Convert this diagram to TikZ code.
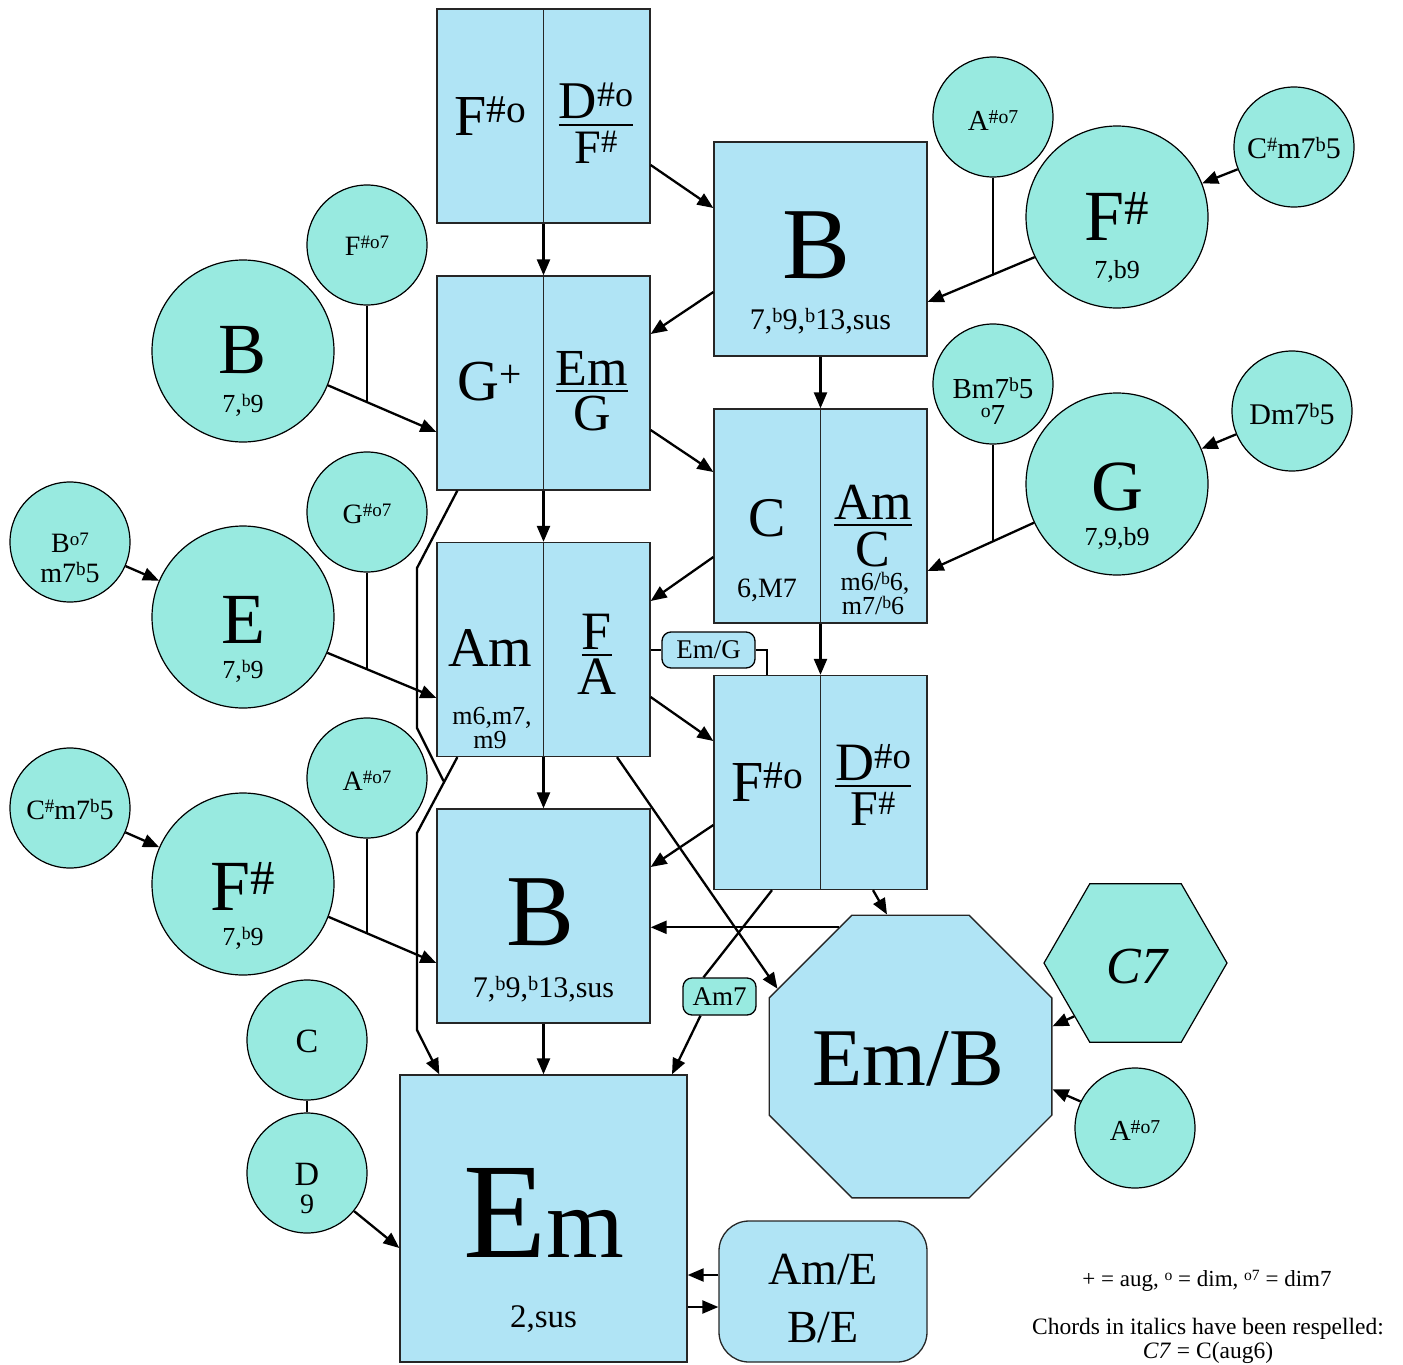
\documentclass[tikz,border=0pt]{standalone}
\usepackage{fontspec}
\setmainfont{Liberation Serif}
\usepackage{graphicx}
\usetikzlibrary{shapes.geometric,arrows.meta}
\definecolor{boxblue}{RGB}{176,228,245}
\definecolor{tealc}{RGB}{152,234,224}
\newcommand\up[1]{\raisebox{0.22em}{\scalebox{0.68}{#1}}}
\newcommand\fsz[1]{\fontsize{#1}{#1}\selectfont}
\begin{document}
\begin{tikzpicture}[x=1pt,y=-1pt,
 sbox/.style={rectangle,draw=black!85,line width=1.3pt,fill=boxblue,inner sep=0pt,minimum width=213pt,minimum height=214pt},
 crc/.style={circle,draw=black,line width=1.2pt,fill=tealc,inner sep=0pt,minimum size=120pt},
 bigcrc/.style={crc,minimum size=182pt},
 txt/.style={anchor=base,inner sep=0pt},
 num/.style={txt,text depth=0pt},
 den/.style={txt,text height=#1},
 arr/.style={line width=2.3pt,-{Triangle[length=16pt,width=13pt]}},
 ln/.style={line width=2.3pt},
 divl/.style={line width=1.3pt,draw=black!85},
 fbar/.style={line width=2pt},
 lab/.style={rectangle,rounded corners=9pt,draw=black,line width=1.3pt,inner sep=0pt,font=\fsz{27}}]
\useasboundingbox (0,0) rectangle (1403,1365);

% ---------- boxes ----------
\node[sbox] (b1) at (543.5,116) {};
\draw[divl] (b1.north) -- (b1.south);
\node[txt,font=\fsz{58}] (t1) at (490,135) {F\up{\#o}};
\node[num,font=\fsz{53}] (t2) at (596,118) {D\up{\#o}};
\draw[fbar] ([yshift=-7pt]t2.base west) -- ([yshift=-7pt]t2.base east);
\node[den=33pt,font=\fsz{48}] (t3) at (596,163) {F\up{\#}};

\node[sbox] (bB) at (820.5,249) {};
\node[txt,font=\fsz{102}] (t4) at (817,278) {B};
\node[txt,font=\fsz{30}] (t5) at (820.5,329) {7,\up{b}9,\up{b}13,sus};

\node[sbox] (b2) at (543.5,383) {};
\draw[divl] (b2.north) -- (b2.south);
\node[txt,font=\fsz{58}] (t6) at (490,400) {G\up{+}};
\node[num,font=\fsz{52}] (t7) at (592,385) {Em};
\draw[fbar] ([yshift=-6pt]t7.base west) -- ([yshift=-6pt]t7.base east);
\node[den=35pt,font=\fsz{52}] (t8) at (592,430) {G};

\node[sbox] (bC) at (820.5,516) {};
\draw[divl] (bC.north) -- (bC.south);
\node[txt,font=\fsz{56}] (t9) at (767,536) {C};
\node[txt,font=\fsz{28}] (t10) at (767,597) {6,M7};
\node[num,font=\fsz{52}] (t11) at (873,519) {Am};
\draw[fbar] ([yshift=-6pt]t11.base west) -- ([yshift=-6pt]t11.base east);
\node[den=35pt,font=\fsz{52},text depth=0pt] (t12) at (873,566) {C};
\node[txt,font=\fsz{26},text height=18pt] (t13) at (875,590) {m6/\up{b}6,};
\node[txt,font=\fsz{26},text height=18pt] (t14) at (873,614) {m7/\up{b}6};

\node[sbox] (bA) at (543.5,649.5) {};
\draw[divl] (bA.north) -- (bA.south);
\node[txt,font=\fsz{56}] (t15) at (490,666) {Am};
\node[txt,font=\fsz{26}] (t16) at (492,724) {m6,m7,};
\node[txt,font=\fsz{26},text height=18pt] (t17) at (490,748) {m9};
\node[num,font=\fsz{54}] (t18) at (597,649) {F};
\draw[fbar] ([yshift=-6pt]t18.base west) -- ([yshift=-6pt]t18.base east);
\node[den=36pt,font=\fsz{54}] (t19) at (597,694) {A};

\node[sbox] (bF) at (820.5,782.5) {};
\draw[divl] (bF.north) -- (bF.south);
\node[txt,font=\fsz{58}] (t20) at (767,801) {F\up{\#o}};
\node[num,font=\fsz{54}] (t21) at (873,780) {D\up{\#o}};
\draw[fbar] ([yshift=-6pt]t21.base west) -- ([yshift=-6pt]t21.base east);
\node[den=34pt,font=\fsz{50}] (t22) at (873,825) {F\up{\#}};

\node[sbox] (bB2) at (543.5,916) {};
\node[txt,font=\fsz{102}] (t23) at (541,945) {B};
\node[txt,font=\fsz{30}] (t24) at (543.5,997) {7,\up{b}9,\up{b}13,sus};

\node[sbox,minimum width=287pt,minimum height=287pt] (em) at (543.5,1218.5) {};
\node[txt] (t25) at (543.5,1257) {\fsz{136}E\fsz{100}m};
\node[txt,font=\fsz{33}] (t26) at (543.5,1327) {2,sus};

\node[sbox,rounded corners=30pt,minimum width=208pt,minimum height=141pt] (ame) at (823,1291.5) {};
\node[txt,font=\fsz{46}] (t27) at (823,1284) {Am/E};
\node[txt,font=\fsz{46},text height=33pt] (t28) at (823,1342) {B/E};

\node[regular polygon,regular polygon sides=8,minimum size=306pt,draw=black!85,line width=1.3pt,fill=boxblue,inner sep=0pt] (emb) at (910.5,1056.5) {};
\node[txt,font=\fsz{82}] (t29) at (908,1085) {Em/B};

\node[regular polygon,regular polygon sides=6,minimum size=183pt,draw=black,line width=1.2pt,fill=tealc,inner sep=0pt] (c7) at (1135.5,963) {};
\node[txt,font=\fsz{52}\itshape] (t30) at (1137,983) {C7};

% ---------- circles ----------
\node[crc] (as1) at (993,117) {};
\node[txt,font=\fsz{29}] (t31) at (993,130) {A\up{\#o7}};
\node[bigcrc] (fs1) at (1117,217) {};
\node[txt,font=\fsz{72}] (t32) at (1117,240) {F\up{\#}};
\node[txt,font=\fsz{26}] (t33) at (1117,278) {7,b9};
\node[crc] (cs1) at (1294,147) {};
\node[txt,font=\fsz{30}] (t34) at (1294,158) {C\up{\#}m7\up{b}5};

\node[crc] (bm) at (993,384) {};
\node[txt,font=\fsz{29}] (t35) at (993,398) {Bm7\up{b}5};
\node[txt,font=\fsz{29},text height=20pt] (t36) at (993,424) {\up{o}7};
\node[bigcrc] (g1) at (1117,484) {};
\node[txt,font=\fsz{72}] (t37) at (1117,510) {G};
\node[txt,font=\fsz{26}] (t38) at (1117,545) {7,9,b9};
\node[crc] (dm) at (1292,411) {};
\node[txt,font=\fsz{30}] (t39) at (1292,424) {Dm7\up{b}5};

\node[crc] (fo) at (367,245) {};
\node[txt,font=\fsz{28}] (t40) at (367,255) {F\up{\#o7}};
\node[bigcrc] (bc) at (243,351) {};
\node[txt,font=\fsz{72}] (t41) at (243,373) {B};
\node[txt,font=\fsz{26}] (t42) at (243,412) {7,\up{b}9};

\node[crc] (go) at (367,512) {};
\node[txt,font=\fsz{28}] (t43) at (367,523) {G\up{\#o7}};
\node[bigcrc] (ec) at (243,617) {};
\node[txt,font=\fsz{72}] (t44) at (243,643) {E};
\node[txt,font=\fsz{26}] (t45) at (243,678) {7,\up{b}9};
\node[crc] (bo) at (70,542) {};
\node[txt,font=\fsz{28}] (t46) at (70,552) {B\up{o7}};
\node[txt,font=\fsz{28},text height=20pt] (t47) at (70,582) {m7\up{b}5};

\node[crc] (ao2) at (367,778) {};
\node[txt,font=\fsz{28}] (t48) at (367,790) {A\up{\#o7}};
\node[bigcrc] (fs2) at (243,884) {};
\node[txt,font=\fsz{72}] (t49) at (243,910) {F\up{\#}};
\node[txt,font=\fsz{26}] (t50) at (243,945) {7,\up{b}9};
\node[crc] (cs2) at (70,808) {};
\node[txt,font=\fsz{28}] (t51) at (70,819) {C\up{\#}m7\up{b}5};

\node[crc] (cc) at (307,1040) {};
\node[txt,font=\fsz{34}] (t52) at (307,1052) {C};
\node[crc] (dd) at (307,1173) {};
\node[txt,font=\fsz{34},text depth=0pt] (t53) at (307,1185) {D};
\node[txt,font=\fsz{28},text height=19pt] (t54) at (307,1213) {9};

\node[crc] (ao3) at (1135,1128) {};
\node[txt,font=\fsz{29}] (t55) at (1135,1140) {A\up{\#o7}};

% ---------- edge labels ----------
\node[lab,fill=boxblue,minimum width=93pt,minimum height=36pt] (emg) at (708.5,650) {Em/G};
\node[lab,fill=tealc,minimum width=73pt,minimum height=37pt] (am7) at (719.5,996.5) {Am7};

% ---------- legend ----------
\node[txt,font=\fsz{23}] (l1) at (1207,1286) {+ = aug, \up{o} = dim, \up{o7} = dim7};
\node[txt,font=\fsz{23.5}] (l2) at (1208,1334) {Chords in italics have been respelled:};
\node[txt,font=\fsz{23.5},text height=16pt] (l3) at (1208,1358) {\textit{C7} = C(aug6)};

% ---------- connectors between boxes ----------
\draw[arr] (b1.south) -- (b2.north);
\draw[arr] ([yshift=-49pt]b1.east) -- ([yshift=41pt]bB.west);
\draw[arr] ([yshift=-43pt]bB.west) -- ([yshift=49pt]b2.east);
\draw[arr] (bB.south) -- (bC.north);
\draw[arr] ([yshift=-47pt]b2.east) -- ([yshift=44pt]bC.west);
\draw[arr] (b2.south) -- (bA.north);
\draw[arr] ([yshift=-41pt]bC.west) -- ([yshift=48.5pt]bA.east);
\draw[arr] (bC.south) -- (bF.north);
\draw[arr] ([yshift=-47.5pt]bA.east) -- ([yshift=41.5pt]bF.west);
\draw[line width=1.8pt] ([yshift=-0.5pt]bA.east) -- (emg.west);
\draw[line width=1.8pt] (emg.east) -| ([xshift=-53.5pt]bF.north);
\draw[arr] (bA.south) -- (bB2.north);
\draw[arr] ([xshift=73.5pt]bA.south) -- (emb.153);
\draw[arr] ([yshift=-42.5pt]bF.west) -- ([yshift=49pt]bB2.east);
\draw[ln] ([xshift=-48.5pt]bF.south) -- ([xshift=-16pt]am7.north);
\draw[arr] ([xshift=-19pt]am7.south) -- ([xshift=128.5pt]em.north);
\draw[arr] ([xshift=52.5pt]bF.south) -- ([xshift=-23.5pt]emb.north);
\draw[arr] (emb.119) -- (emb.119 -| bB2.east);
\draw[arr] (bB2.south) -- (em.north);
\coordinate (m1) at (443.5,781);
\draw[ln,line join=round] ([xshift=21pt]b2.south west) -- (417,568) -- (417,728) -- (m1);
\draw[arr,line join=round] ([xshift=21pt]bA.south west) -- (417,833) -- (417,1030) -- ([xshift=40pt]em.north west);
\coordinate (r1) at ([yshift=16.5pt]ame.west);
\coordinate (r2) at ([yshift=-88.5pt]em.east);
\draw[arr] (r1) -- (r1 -| em.east);
\draw[arr] (r2) -- (r2 -| ame.west);

% ---------- connectors from circles ----------
\draw[arr] (cs1) -- (fs1);
\coordinate (j1) at (993,275.1);
\draw[arr] (fs1.206.6) -- ([yshift=-53pt]bB.east);
\draw[ln] (as1.south) -- (j1);
\draw[arr] (dm) -- (g1);
\coordinate (j2) at (993,541.2);
\draw[arr] (g1.205) -- ([yshift=-55pt]bC.east);
\draw[ln] (bm.south) -- (j2);
\coordinate (j3) at (367,402);
\draw[arr] (bc.-22) -- ([yshift=-49pt]b2.west);
\draw[ln] (fo.south) -- (j3);
\draw[arr] (bo) -- (ec);
\coordinate (j4) at (367,669.7);
\draw[arr] (ec.-23.5) -- ([yshift=-48.5pt]bA.west);
\draw[ln] (go.south) -- (j4);
\draw[arr] (cs2) -- (fs2);
\coordinate (j5) at (367,933.9);
\draw[arr] (fs2.-21.6) -- ([yshift=-47pt]bB2.west);
\draw[ln] (ao2.south) -- (j5);
\draw[ln] (cc) -- (dd);
\draw[arr] (dd.-39) -- ([yshift=-29.5pt]em.west);
\draw[arr] (c7.221) -- (emb.12);
\draw[arr] (ao3.154) -- (emb.-13);
\end{tikzpicture}
\end{document}
